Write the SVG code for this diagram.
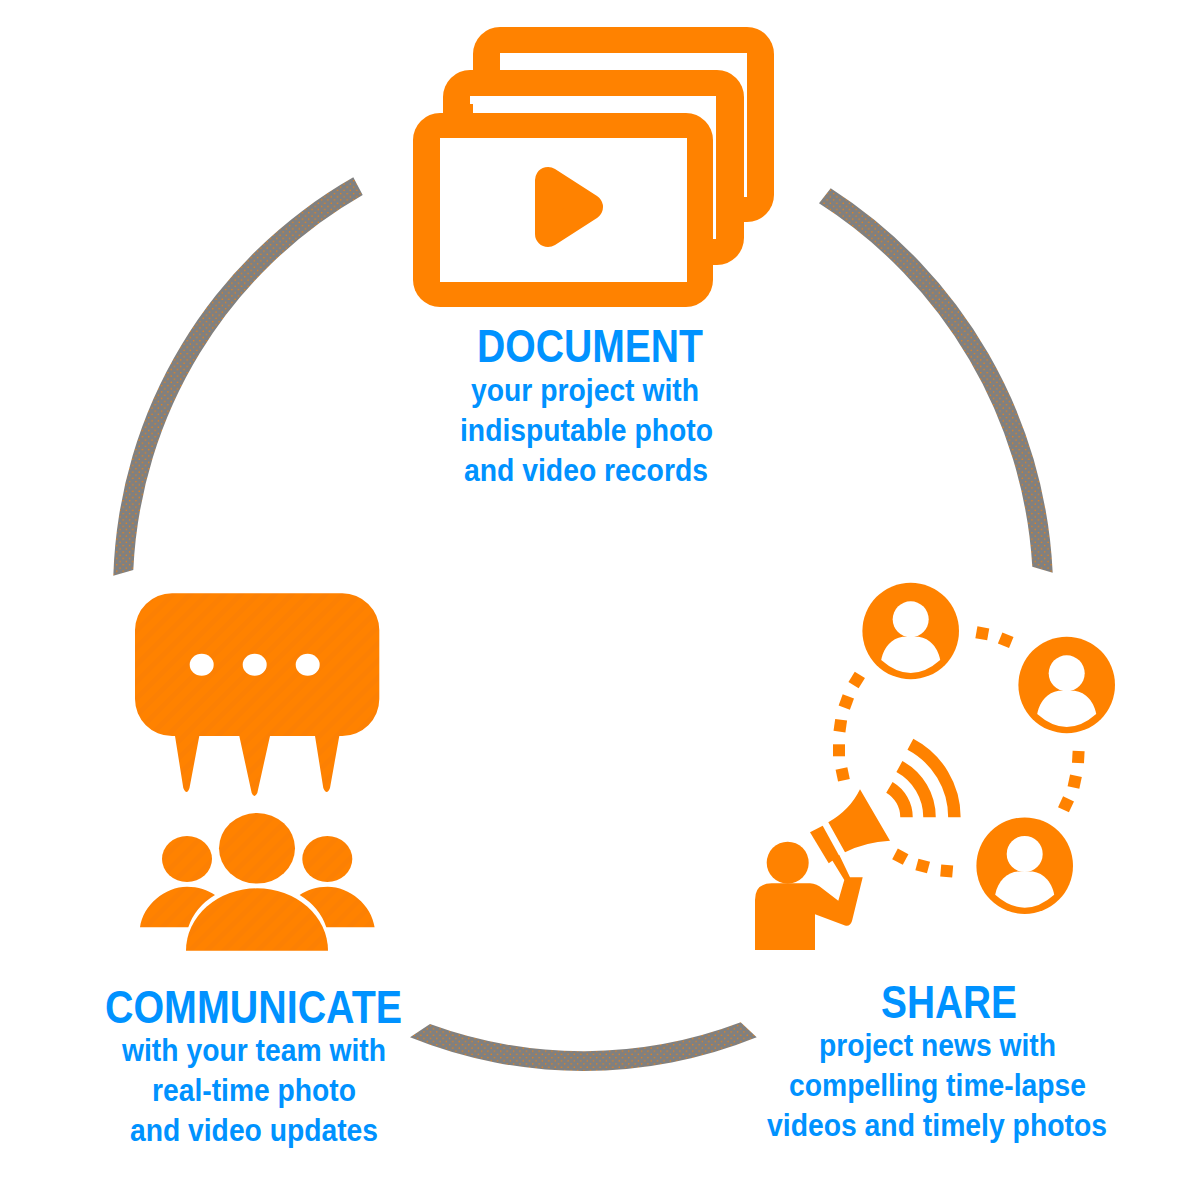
<svg xmlns="http://www.w3.org/2000/svg" width="1200" height="1200" viewBox="0 0 1200 1200">
<style>
.t{font-family:"Liberation Sans",Arial,sans-serif;font-weight:700;fill:#0092ff;text-anchor:start}
.h{font-size:46px}
.b{font-size:31px}
.o{fill:#ff8200}
.w{fill:#fff}
.arc{fill:url(#dots)}
.s{fill:url(#stripe)}
.wave{fill:none;stroke:#ff8200;stroke-width:12.5}
</style>
<defs>
<pattern id="dots" width="6.4" height="6.4" patternUnits="userSpaceOnUse">
<rect width="6.4" height="6.4" fill="#808080"/>
<circle cx="1.6" cy="1.6" r=".75" fill="#ff8200"/>
<circle cx="4.8" cy="4.8" r=".75" fill="#ff8200"/>
</pattern>
<pattern id="stripe" width="12" height="12" patternUnits="userSpaceOnUse" patternTransform="rotate(-45)">
<rect width="12" height="12" fill="#ff8200"/>
<rect width="12" height="5" fill="#fc8003"/>
</pattern>
<g id="user">
<circle r="48.3" class="o"/>
<circle cy="-11.7" r="18" class="w"/>
<path class="w" d="M-29.5,29C-27,15-17,5.7-6,5.7H6C17,5.7 27,15 29.5,29Q0,55-29.5,29Z"/>
</g>
<rect id="sq" x="-6" y="-6" width="12" height="12" class="o"/>
</defs>

<g id="connectors">
<path class="arc" d="M113.3,575.7A476,476 0 0 1 353.3,177.3L362.7,195A456.5,456.5 0 0 0 133.3,570Z"/>
<path class="arc" d="M830.7,188.3A484,484 0 0 1 1052.7,572.7L1032.3,566.7A464.5,464.5 0 0 0 819,203.3Z"/>
<path class="arc" d="M410,1037.3A462.7,462.7 0 0 0 756.7,1037.3L740.7,1022.3A445,445 0 0 1 430,1024Z"/>
</g>

<g id="document">
<rect x="473" y="27" width="301" height="195" rx="27" class="o"/>
<rect x="500" y="53" width="247" height="144" class="w"/>
<rect x="443" y="70" width="301" height="195" rx="27" class="o"/>
<rect x="470" y="96" width="246" height="143" class="w"/>
<rect x="470" y="104" width="3" height="10" class="o"/>
<rect x="413" y="113" width="300" height="194" rx="27" class="o"/>
<rect x="440" y="138" width="247" height="144" class="w"/>
<path class="o" stroke="#ff8200" stroke-width="26" stroke-linejoin="round" d="M548,180V234L590,207Z"/>
<text class="t h" x="477" y="362" textLength="226" lengthAdjust="spacingAndGlyphs">DOCUMENT</text>
<text class="t b" x="471" y="401" textLength="228" lengthAdjust="spacingAndGlyphs">your project with</text>
<text class="t b" x="460" y="441" textLength="253" lengthAdjust="spacingAndGlyphs">indisputable photo</text>
<text class="t b" x="464" y="481" textLength="244" lengthAdjust="spacingAndGlyphs">and video records</text>
</g>

<g id="share">
<use href="#user" x="910.7" y="631"/>
<use href="#user" x="1066.7" y="685"/>
<use href="#user" x="1024.7" y="865.7"/>
<use href="#sq" transform="translate(982.3,633.3) rotate(10)"/>
<use href="#sq" transform="translate(1005.7,640.3) rotate(22)"/>
<use href="#sq" transform="translate(856.7,680) rotate(32)"/>
<use href="#sq" transform="translate(846.3,702) rotate(20)"/>
<use href="#sq" transform="translate(840.3,725.7) rotate(8)"/>
<use href="#sq" transform="translate(839,750.3)"/>
<use href="#sq" transform="translate(842.7,774.3) rotate(-12)"/>
<use href="#sq" transform="translate(1078.3,757) rotate(3)"/>
<use href="#sq" transform="translate(1074.7,781.7) rotate(12)"/>
<use href="#sq" transform="translate(1066,804.3) rotate(25)"/>
<use href="#sq" transform="translate(900.3,856.7) rotate(28)"/>
<use href="#sq" transform="translate(922.7,866) rotate(15)"/>
<use href="#sq" transform="translate(946.7,871) rotate(5)"/>
<path class="wave" d="M910.4,744.2A82.7,82.7 0 0 1 954.4,817.3"/>
<path class="wave" d="M899.4,766.5A57.8,57.8 0 0 1 929.5,817.3"/>
<path class="wave" d="M889.4,787.3A34.8,34.8 0 0 1 906.5,817.3"/>
<path class="o" d="M860,789.3Q850,810 828.3,822.3L845,852.3Q865,842 890,840.7Z"/>
<path class="o" d="M810,832.3L822.7,825.7L839.3,856L828.7,863.3Z"/>
<circle cx="787.7" cy="862.7" r="21" class="o"/>
<path class="o" d="M755,950V900Q755,883.3 771.7,883.3H810Q817,884 822,888.3L838.3,900.7L844.3,880L832,860L839.3,855L850,877.3H862.7L852,921Q850,927 845,925.5L815,914.3V950Z"/>
<text class="t h" x="881" y="1018" textLength="136" lengthAdjust="spacingAndGlyphs">SHARE</text>
<text class="t b" x="819" y="1056" textLength="237" lengthAdjust="spacingAndGlyphs">project news with</text>
<text class="t b" x="789" y="1096" textLength="297" lengthAdjust="spacingAndGlyphs">compelling time-lapse</text>
<text class="t b" x="767" y="1136" textLength="340" lengthAdjust="spacingAndGlyphs">videos and timely photos</text>
</g>

<g id="communicate">
<path class="s" d="M172,593.3H342A37,37 0 0 1 379.3,630V699A37,37 0 0 1 342,736H339.3L330,788Q326.7,796 323.3,788L315,736H270L257.3,793Q254.3,799 251.7,793L239.3,736H199.3L189.5,788Q186.7,796 183.3,788L175,736H172A37,37 0 0 1 135,699V630A37,37 0 0 1 172,593.3Z"/>
<ellipse cx="201.7" cy="664.7" rx="12" ry="11" class="w"/>
<ellipse cx="254.7" cy="664.7" rx="12" ry="11" class="w"/>
<ellipse cx="307.7" cy="664.7" rx="12" ry="11" class="w"/>
<ellipse cx="257" cy="848.3" rx="38" ry="35.3" class="s"/>
<ellipse cx="187" cy="859" rx="25" ry="23" class="s"/>
<ellipse cx="327.3" cy="859" rx="25" ry="23" class="s"/>
<path class="s" d="M186,950.7A71,62.4 0 0 1 328,950.7Z"/>
<path class="s" d="M140,927.3C143,905 165,886.7 187,886.7C198,886.7 208,890 215,895Q195,907 188.3,927.3Z"/>
<path class="s" d="M374.6,927.3C371.6,905 349.6,886.7 327.6,886.7C316.6,886.7 306.6,890 299.6,895Q319.6,907 326.3,927.3Z"/>
<text class="t h" x="105" y="1022.5" textLength="297" lengthAdjust="spacingAndGlyphs">COMMUNICATE</text>
<text class="t b" x="122" y="1061" textLength="264" lengthAdjust="spacingAndGlyphs">with your team with</text>
<text class="t b" x="152" y="1101" textLength="204" lengthAdjust="spacingAndGlyphs">real-time photo</text>
<text class="t b" x="130" y="1141" textLength="248" lengthAdjust="spacingAndGlyphs">and video updates</text>
</g>
</svg>
